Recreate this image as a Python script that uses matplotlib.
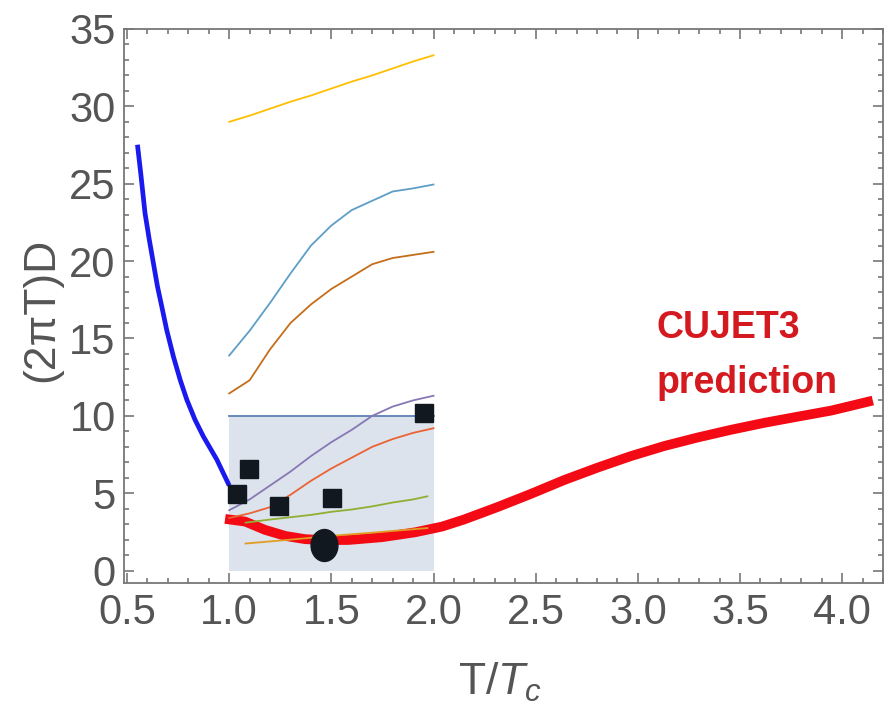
import matplotlib
matplotlib.use('Agg')
import matplotlib.pyplot as plt
from matplotlib.path import Path
from matplotlib.ticker import MultipleLocator
import numpy as np

plt.rcParams['font.family'] = ['Liberation Sans', 'DejaVu Sans']
plt.rcParams['mathtext.fontset'] = 'custom'
plt.rcParams['mathtext.rm'] = 'Liberation Sans'
plt.rcParams['mathtext.it'] = 'Liberation Sans:italic'

# hadronic side (T < Tc)
t_hadron = [0.551, 0.567, 0.588, 0.609, 0.629, 0.649, 0.670, 0.694, 0.727,
            0.760, 0.793, 0.833, 0.874, 0.940, 1.0]
d_hadron = [27.52, 25.69, 23.1, 21.38, 19.87, 18.36, 17.07, 15.56, 13.83,
            12.33, 11.03, 9.74, 8.66, 7.16, 5.5]

# CUJET3 prediction
t_cujet = [0.980, 1.078, 1.176, 1.275, 1.373, 1.48, 1.585, 1.748, 1.912, 2.043,
           2.149, 2.312, 2.475, 2.639, 2.802, 2.966, 3.129, 3.292, 3.456,
           3.619, 3.783, 3.946, 4.044, 4.150]
d_cujet = [3.34, 3.17, 2.63, 2.24, 2.03, 1.97, 1.98, 2.16, 2.48, 2.85,
           3.3, 4.1, 4.95, 5.85, 6.65, 7.4, 8.05, 8.6, 9.1,
           9.55, 9.95, 10.34, 10.65, 10.99]

# model curves on 1 < T/Tc < 2
t_model = [1.0, 1.1, 1.2, 1.3, 1.4, 1.5, 1.6, 1.7, 1.8, 1.9, 2.0]
d_yellow = [29.0, 29.4, 29.85, 30.3, 30.7, 31.15, 31.6, 32.0, 32.45, 32.9, 33.3]
d_lightblue = [13.9, 15.5, 17.3, 19.2, 21.0, 22.3, 23.3, 23.9, 24.5, 24.7, 24.95]
d_brown = [11.45, 12.3, 14.3, 16.0, 17.2, 18.2, 19.0, 19.8, 20.2, 20.4, 20.6]
d_purple = [3.9, 4.6, 5.5, 6.4, 7.4, 8.3, 9.1, 10.0, 10.6, 11.0, 11.3]
d_redorange = [3.4, 3.7, 4.1, 4.9, 5.8, 6.6, 7.3, 8.0, 8.5, 8.9, 9.2]

t_green = [1.08, 1.2, 1.3, 1.4, 1.5, 1.6, 1.7, 1.8, 1.9, 1.97]
d_green = [3.1, 3.3, 3.45, 3.6, 3.8, 3.95, 4.15, 4.4, 4.6, 4.8]

t_orange = [1.08, 1.3, 1.5, 1.7, 1.97]
d_orange = [1.75, 2.0, 2.25, 2.45, 2.75]

# lattice band and flat line
band_t = [1.0, 2.0]
band_d = [0.0, 10.0]

# data points
t_squares = [1.04, 1.095, 1.245, 1.503, 1.953]
d_squares = [4.96, 6.57, 4.18, 4.68, 10.17]
t_circle = [1.462]
d_circle = [1.66]

gray = '#555555'

fig = plt.figure(figsize=(8.88, 7.07), dpi=100)
ax = fig.add_axes([0.1396, 0.1754, 0.8548, 0.7836])

ax.fill_between(band_t, band_d[0], band_d[1], color='#dce3ec', lw=0, zorder=1)
ax.plot(band_t, [band_d[1], band_d[1]], color='#5E81B5', lw=1.3, zorder=2)

ax.plot(t_hadron, d_hadron, color='#1a1aee', lw=3.4, solid_capstyle='butt',
        solid_joinstyle='round', zorder=3)
ax.plot(t_cujet, d_cujet, color='#f40a14', lw=7, solid_capstyle='butt',
        solid_joinstyle='round', zorder=3)

ax.plot(t_model, d_yellow, color='#FFBF00', lw=1.3, zorder=4)
ax.plot(t_model, d_lightblue, color='#5D9EC7', lw=1.3, zorder=4)
ax.plot(t_model, d_brown, color='#C56E1A', lw=1.3, zorder=4)
ax.plot(t_model, d_purple, color='#8778B3', lw=1.3, zorder=4)
ax.plot(t_model, d_redorange, color='#EB6235', lw=1.3, zorder=4)
ax.plot(t_green, d_green, color='#8FB032', lw=1.3, zorder=4)
ax.plot(t_orange, d_orange, color='#E19C24', lw=1.3, zorder=4)

ax.plot(t_squares, d_squares, ls='none', marker='s', ms=13, color='#111820', zorder=5)
circ = Path.unit_circle()
ellipse = Path(circ.vertices * np.array([0.84, 1.0]), circ.codes)
ax.plot(t_circle, d_circle, ls='none', marker=ellipse, ms=23, color='#111820', zorder=6)

ax.text(0.702, 0.442, 'CUJET3', transform=ax.transAxes, color='#d41a1f',
        fontsize=27, fontweight='bold', va='baseline', ha='left')
ax.text(0.702, 0.343, 'prediction', transform=ax.transAxes, color='#d41a1f',
        fontsize=27, fontweight='bold', va='baseline', ha='left')

ax.set_xlim(0.485, 4.2)
ax.set_ylim(-0.8, 35)
ax.xaxis.set_major_locator(MultipleLocator(0.5))
ax.xaxis.set_minor_locator(MultipleLocator(0.1))
ax.yaxis.set_major_locator(MultipleLocator(5))
ax.yaxis.set_minor_locator(MultipleLocator(1))
ax.xaxis.set_major_formatter(lambda v, p: f'{v:.1f}')
ax.yaxis.set_major_formatter(lambda v, p: f'{v:.0f}')

ax.tick_params(which='both', direction='in', top=True, right=True, color='#777777', width=1.2)
ax.tick_params(which='major', length=7, labelsize=30, labelcolor=gray)
ax.tick_params(axis='x', which='major', pad=7)
ax.tick_params(axis='y', which='major', pad=6)
ax.tick_params(which='minor', length=3.6)
for s in ax.spines.values():
    s.set_color('#777777')
    s.set_linewidth(1.3)

ax.set_xlabel('T/$T_c$', fontsize=32, color=gray)
ax.xaxis.label.set_va('baseline')
ax.xaxis.set_label_coords(0.495, -0.202)
ax.set_ylabel('(2\u03c0T)D', fontsize=32, color=gray)
ax.yaxis.label.set_va('center')
ax.yaxis.set_label_coords(-0.108, 0.493)

fig.savefig('out.png', dpi=100)
